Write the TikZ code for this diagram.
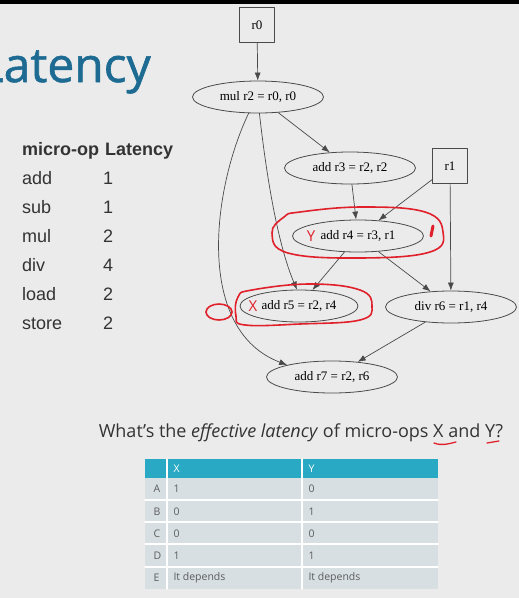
\documentclass[tikz,border=0pt]{standalone}
\usepackage{fontspec}
\setmainfont{Open Sans}
\newfontfamily\graphfont{Liberation Serif}
\newfontfamily\listfont{Liberation Sans}
\newfontfamily\titlefont{Open Sans}[FakeBold=1.2]
\usetikzlibrary{shapes.geometric, arrows.meta}
\definecolor{slidebg}{HTML}{EBEBEB}
\definecolor{titleblue}{HTML}{1D6B92}
\definecolor{headteal}{HTML}{29A9C3}
\definecolor{rowgray}{HTML}{D7DFE3}
\definecolor{edgegray}{HTML}{4A4A4A}
\definecolor{inkred}{HTML}{E0202A}
\definecolor{slidetext}{HTML}{333333}

\begin{document}
\begin{tikzpicture}[x=1pt, y=-1pt, line cap=round, line join=round,
    op/.style={ellipse, draw=edgegray, line width=0.8pt, minimum width=131pt, minimum height=32pt, inner sep=0pt, font=\graphfont\fontsize{13}{14}\selectfont},
    reg/.style={rectangle, draw=edgegray, line width=0.8pt, minimum size=35pt, inner sep=0pt, font=\graphfont\fontsize{13}{14}\selectfont},
    dep/.style={->, >={Latex[length=8pt, width=6pt]}, draw=edgegray, line width=0.7pt},
    ink/.style={draw=inkred, line width=1.6pt},
    lat/.style={anchor=base west, inner sep=0pt, text=slidetext, font=\listfont\fontsize{18}{20}\selectfont},
    cell/.style={anchor=west, text=slidetext!80, font=\fontsize{10.5}{12}\selectfont}]
  \useasboundingbox (0,0) rectangle (519,598);
  \fill[slidebg] (0,0) rectangle (519,598);
  \fill[black] (0,0) rectangle (519,4);

  \node[anchor=base east, inner sep=0pt, text=titleblue, font=\titlefont\fontsize{48}{52}\selectfont] (title) at (151,82) {Latency};

  % micro-op latencies
  \node[lat, font=\listfont\bfseries\fontsize{18}{20}\selectfont] (hop) at (22,155) {micro-op};
  \node[lat, font=\listfont\bfseries\fontsize{18}{20}\selectfont] (hlat) at (105,155) {Latency};
  \foreach \op/\cyc [count=\i] in {add/1, sub/1, mul/2, div/4, load/2, store/2} {
    \node[lat] (op\i) at (22,{155+29*\i}) {\op};
    \node[lat] (cyc\i) at (103,{155+29*\i}) {\cyc};
  }

  % dependence graph
  \node[reg] (r0) at (257,25) {r0};
  \node[op] (mul) at (258,97) {mul r2 = r0, r0};
  \node[op] (addthree) at (350,168) {add r3 = r2, r2};
  \node[reg] (rone) at (450,166) {r1};
  \node[op] (addfour) at (358,236) {add r4 = r3, r1};
  \node[op, minimum width=118pt] (addfive) at (299,306) {add r5 = r2, r4};
  \node[op] (divsix) at (451,307) {div r6 = r1, r4};
  \node[op] (addseven) at (332,377) {add r7 = r2, r6};

  \draw[dep] (r0) -- (mul);
  \draw[dep] (mul) -- (addthree);
  \draw[dep] (mul.275) .. controls (268,190) and (280,250) .. (addfive.97);
  \draw[dep] (mul.240) .. controls (212,190) and (195,330) .. (addseven.165);
  \draw[dep] (addthree) -- (addfour);
  \draw[dep] (rone) -- (addfour);
  \draw[dep] (rone) -- (divsix);
  \draw[dep] (addfour) -- (addfive);
  \draw[dep] (addfour) -- (divsix);
  \draw[dep] (divsix) -- (addseven);

  % pen marks
  \draw[ink] plot[smooth cycle, tension=0.7] coordinates {(300,212) (362,207) (425,212) (443,232) (430,252) (360,258) (288,253) (272,233) (284,217)};
  \draw[inkred, line width=3pt] (433,226) -- (431,236);
  \node[text=inkred, font=\fontsize{15}{15}\selectfont, inner sep=0pt] (ymark) at (311,236) {Y};
  \draw[ink] plot[smooth cycle, tension=0.7] coordinates {(252,290) (310,284) (360,290) (372,306) (360,320) (300,324) (245,325) (236,316) (238,297)};
  \draw[ink] (219,312) ellipse[x radius=13, y radius=8];
  \node[text=inkred, font=\fontsize{15}{15}\selectfont, inner sep=0pt] (xmark) at (253,306) {X};

  % question
  \node[anchor=base, text=slidetext, font=\fontsize{18}{20}\selectfont, inner sep=0pt] (question) at (301,437) {What’s the \textit{effective latency} of micro-ops X and Y?};
  \draw[ink, line width=1.3pt] (434,443) .. controls (442,446) and (448,444) .. (456,442);
  \draw[ink, line width=1.3pt] (487,443) -- (499,441);

  % answer table
  \fill[rowgray] (145,478) rectangle (438,589);
  \fill[headteal] (145,459) rectangle (438,478);
  \foreach \yy in {500,522,544,567} {
    \draw[white, line width=1.2pt] (145,\yy) -- (438,\yy);
  }
  \draw[white, line width=1.2pt] (167,459) -- (167,589);
  \draw[white, line width=1.2pt] (302,459) -- (302,589);
  \node[cell, text=white] (hx) at (170,469) {X};
  \node[cell, text=white] (hy) at (305,469) {Y};
  \foreach \lbl/\xv/\yv [count=\i] in {A/1/0, B/0/1, C/0/0, D/1/1, E/It depends/It depends} {
    \node[cell] (row\i) at (150,{467+22.2*\i}) {\lbl};
    \node[cell] (xv\i) at (170,{467+22.2*\i}) {\xv};
    \node[cell] (yv\i) at (305,{467+22.2*\i}) {\yv};
  }
\end{tikzpicture}
\end{document}
